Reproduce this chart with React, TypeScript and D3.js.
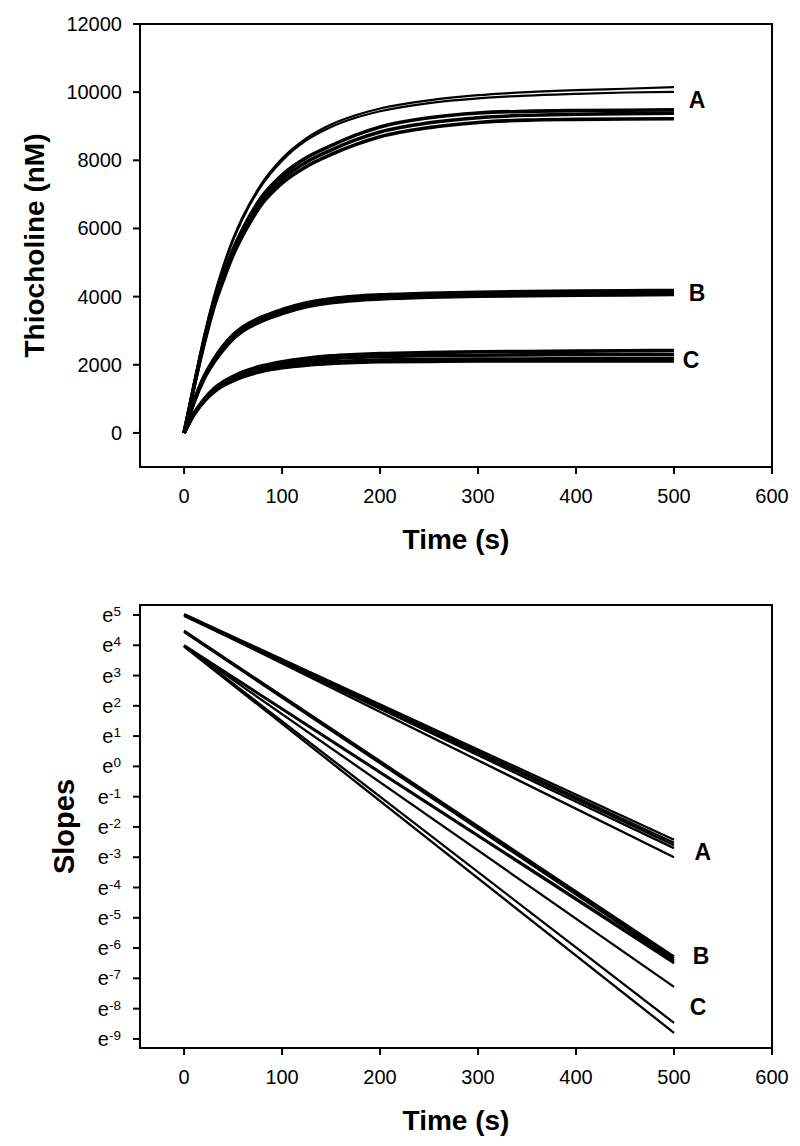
import React from "react";
import * as d3 from "d3";

// ---------- Top panel data (Thiocholine, nM vs time, s) ----------
const TIME = [0, 10, 20, 30, 40, 50, 60, 80, 100, 125, 150, 175, 200, 250, 300, 350, 400, 450, 500];

const A_UPPER_1 = [0, 1450, 2800, 3950, 4900, 5700, 6350, 7350, 8050, 8650, 9050, 9320, 9520, 9760, 9910, 10000, 10060, 10100, 10150];
const A_UPPER_2 = [0, 1430, 2770, 3910, 4850, 5650, 6300, 7300, 7990, 8590, 8980, 9250, 9440, 9680, 9820, 9900, 9950, 9990, 10010];
const A_LOWER_1 = [0, 1370, 2640, 3760, 4630, 5390, 6000, 6960, 7570, 8080, 8430, 8740, 8980, 9250, 9390, 9440, 9460, 9470, 9480];
const A_LOWER_2 = [0, 1350, 2600, 3700, 4550, 5300, 5900, 6850, 7450, 7950, 8300, 8600, 8830, 9100, 9250, 9320, 9350, 9370, 9380];
const A_LOWER_3 = [0, 1330, 2560, 3640, 4470, 5210, 5800, 6740, 7330, 7820, 8170, 8460, 8690, 8960, 9110, 9180, 9200, 9210, 9220];

const B_1 = [0, 920, 1640, 2150, 2560, 2880, 3110, 3410, 3620, 3820, 3940, 4010, 4050, 4100, 4130, 4150, 4160, 4170, 4180];
const B_2 = [0, 900, 1600, 2100, 2500, 2820, 3050, 3350, 3560, 3760, 3880, 3950, 3990, 4040, 4070, 4090, 4100, 4110, 4120];
const B_3 = [0, 880, 1560, 2050, 2440, 2760, 2990, 3290, 3500, 3700, 3820, 3890, 3930, 3980, 4010, 4030, 4040, 4050, 4060];

const C_1 = [0, 570, 980, 1290, 1500, 1660, 1790, 1970, 2090, 2190, 2260, 2300, 2330, 2360, 2380, 2390, 2400, 2410, 2420];
const C_2 = [0, 550, 950, 1250, 1460, 1610, 1740, 1910, 2030, 2120, 2180, 2220, 2240, 2270, 2280, 2290, 2300, 2300, 2300];
const C_3 = [0, 540, 930, 1220, 1420, 1570, 1690, 1850, 1960, 2040, 2090, 2120, 2140, 2160, 2170, 2170, 2180, 2180, 2180];
const C_4 = [0, 530, 910, 1190, 1390, 1530, 1650, 1810, 1910, 1990, 2040, 2070, 2090, 2100, 2110, 2110, 2110, 2110, 2110];

const THIN_TRACES = [A_UPPER_1, A_UPPER_2];
const THICK_TRACES = [A_LOWER_1, A_LOWER_2, A_LOWER_3, B_1, B_2, B_3, C_1, C_2, C_3, C_4];

const X_TICKS = [0, 100, 200, 300, 400, 500, 600];
const TOP_Y_TICKS = [0, 2000, 4000, 6000, 8000, 10000, 12000];

const TOP_LABELS = ["A", "B", "C"];
const TOP_LABEL_T = [515, 515, 509];
const TOP_LABEL_V = [9770, 4108, 2140];

// ---------- Bottom panel data (Slopes, exponent of e, vs time) ----------
const LINE_T = [0, 500];
const SLOPE_A_START = [5.03, 5.01, 4.99, 4.97, 5.0];
const SLOPE_A_END = [-2.42, -2.52, -2.6, -2.7, -3.0];
const SLOPE_B_START = [4.48, 4.46, 4.44, 4.0, 3.98];
const SLOPE_B_END = [-6.28, -6.34, -6.4, -6.45, -6.5];
const SLOPE_C_START = [3.98, 3.98, 3.96];
const SLOPE_C_END = [-7.28, -8.47, -8.8];

const BOTTOM_Y_EXPONENTS = [5, 4, 3, 2, 1, 0, -1, -2, -3, -4, -5, -6, -7, -8, -9];

const BOTTOM_LABELS = ["A", "B", "C"];
const BOTTOM_LABEL_T = [521, 519, 516];
const BOTTOM_LABEL_EXP = [-2.82, -6.26, -7.95];

const FONT = "'Liberation Sans', Arial, Helvetica, sans-serif";

export default function App() {
  const W = 800;
  const H = 1146;
  const left = 140;
  const right = 772;

  // top panel scales
  const xTop = d3.scaleLinear().domain([-45, 600]).range([left, right]);
  const yTop = d3.scaleLinear().domain([-1000, 12000]).range([467, 24]);

  // bottom panel scales
  const xBot = d3.scaleLinear().domain([-45, 600]).range([left, right]);
  const yBot = d3.scaleLog().base(Math.E).domain([Math.exp(-9.3), Math.exp(5.33)]).range([1048, 605]);

  const topLine = d3
    .line<number>()
    .x((_, i) => xTop(TIME[i]))
    .y((d) => yTop(d))
    .curve(d3.curveMonotoneX);

  const botLine = d3
    .line<number>()
    .x((_, i) => xBot(LINE_T[i]))
    .y((d) => yBot(Math.exp(d)));

  const slopeLines: number[][] = [];
  SLOPE_A_START.forEach((s, i) => slopeLines.push([s, SLOPE_A_END[i]]));
  SLOPE_B_START.forEach((s, i) => slopeLines.push([s, SLOPE_B_END[i]]));
  SLOPE_C_START.forEach((s, i) => slopeLines.push([s, SLOPE_C_END[i]]));

  const topPlot = { y0: yTop.range()[1], y1: yTop.range()[0] };
  const botPlot = { y0: yBot.range()[1], y1: yBot.range()[0] };

  const xAxis = (x: d3.ScaleLinear<number, number>, yAxis: number, key: string) => (
    <g key={key}>
      {X_TICKS.map((t) => (
        <g key={t}>
          <line x1={x(t)} x2={x(t)} y1={yAxis} y2={yAxis + 7} stroke="#000" strokeWidth={2} />
          <text x={x(t)} y={yAxis + 36} textAnchor="middle" fontSize={20} fontFamily={FONT} fill="#000">
            {t}
          </text>
        </g>
      ))}
    </g>
  );

  return (
    <svg
      width={W}
      height={H}
      style={{ position: "absolute", left: 0, top: 0, background: "#fff" }}
      xmlns="http://www.w3.org/2000/svg"
    >
      <rect x={0} y={0} width={W} height={H} fill="#fff" />

      {/* ================= TOP PANEL ================= */}
      <g>
        {THIN_TRACES.map((tr, i) => (
          <path key={"t" + i} d={topLine(tr) || ""} fill="none" stroke="#000" strokeWidth={2.2} strokeLinejoin="round" />
        ))}
        {THICK_TRACES.map((tr, i) => (
          <path key={"k" + i} d={topLine(tr) || ""} fill="none" stroke="#000" strokeWidth={3.6} strokeLinejoin="round" />
        ))}

        <rect x={left} y={topPlot.y0} width={right - left} height={topPlot.y1 - topPlot.y0} fill="none" stroke="#000" strokeWidth={2} />

        {TOP_Y_TICKS.map((v) => (
          <g key={v}>
            <line x1={left - 7} x2={left} y1={yTop(v)} y2={yTop(v)} stroke="#000" strokeWidth={2} />
            <text x={122} y={yTop(v) + 7} textAnchor="end" fontSize={20} fontFamily={FONT} fill="#000">
              {v}
            </text>
          </g>
        ))}
        {xAxis(xTop, topPlot.y1, "xt")}

        <text
          transform={`translate(44, ${(topPlot.y0 + topPlot.y1) / 2}) rotate(-90)`}
          textAnchor="middle"
          fontSize={28}
          fontWeight="bold"
          fontFamily={FONT}
          fill="#000"
        >
          Thiocholine (nM)
        </text>
        <text x={(left + right) / 2} y={topPlot.y1 + 82} textAnchor="middle" fontSize={28} fontWeight="bold" fontFamily={FONT} fill="#000">
          Time (s)
        </text>

        {TOP_LABELS.map((l, i) => (
          <text key={l} x={xTop(TOP_LABEL_T[i])} y={yTop(TOP_LABEL_V[i])} dy="0.36em" fontSize={23} fontWeight="bold" fontFamily={FONT} fill="#000">
            {l}
          </text>
        ))}
      </g>

      {/* ================= BOTTOM PANEL ================= */}
      <g>
        {slopeLines.map((ln, i) => (
          <path key={i} d={botLine(ln) || ""} fill="none" stroke="#000" strokeWidth={2.3} />
        ))}

        <rect x={left} y={botPlot.y0} width={right - left} height={botPlot.y1 - botPlot.y0} fill="none" stroke="#000" strokeWidth={2} />

        {BOTTOM_Y_EXPONENTS.map((k) => (
          <g key={k}>
            <line x1={left - 7} x2={left} y1={yBot(Math.exp(k))} y2={yBot(Math.exp(k))} stroke="#000" strokeWidth={2} />
            <text x={121} y={yBot(Math.exp(k)) + 7} textAnchor="end" fontSize={20} fontFamily={FONT} fill="#000">
              <tspan>e</tspan>
              <tspan dy={-6} fontSize={13.5}>
                {k}
              </tspan>
            </text>
          </g>
        ))}
        {xAxis(xBot, botPlot.y1, "xb")}

        <text
          transform={`translate(74, ${(botPlot.y0 + botPlot.y1) / 2}) rotate(-90)`}
          textAnchor="middle"
          fontSize={29}
          fontWeight="bold"
          fontFamily={FONT}
          fill="#000"
        >
          Slopes
        </text>
        <text x={(left + right) / 2} y={botPlot.y1 + 82} textAnchor="middle" fontSize={28} fontWeight="bold" fontFamily={FONT} fill="#000">
          Time (s)
        </text>

        {BOTTOM_LABELS.map((l, i) => (
          <text
            key={l}
            x={xBot(BOTTOM_LABEL_T[i])}
            y={yBot(Math.exp(BOTTOM_LABEL_EXP[i]))}
            dy="0.36em"
            fontSize={23}
            fontWeight="bold"
            fontFamily={FONT}
            fill="#000"
          >
            {l}
          </text>
        ))}
      </g>
    </svg>
  );
}
